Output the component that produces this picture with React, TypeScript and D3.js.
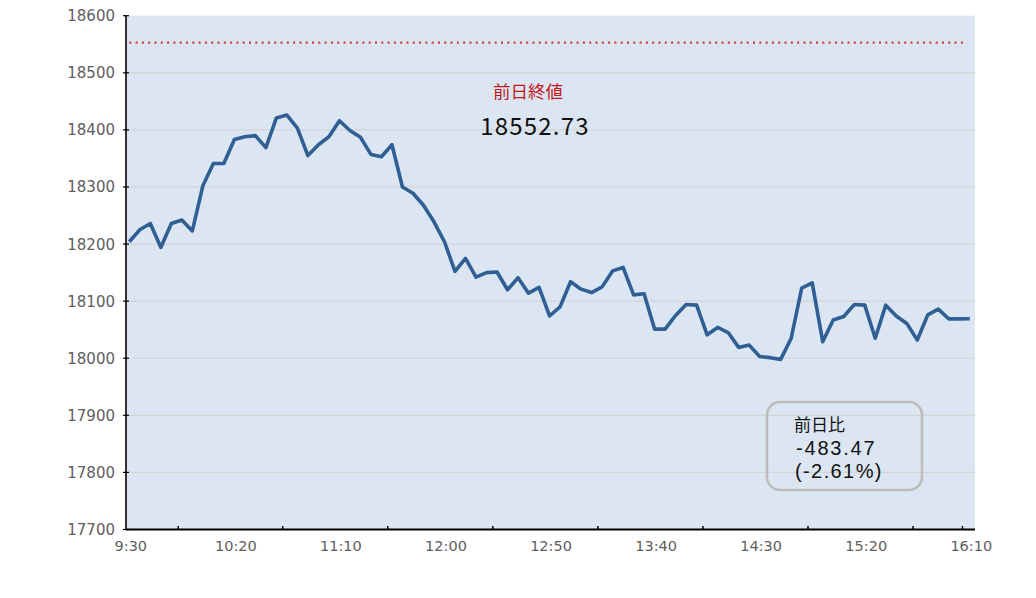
import React from "react";
import * as d3 from "d3";

const values: number[] = [
  18204, 18225, 18236, 18194, 18236, 18242, 18223, 18302, 18341, 18341,
  18383, 18388, 18390, 18369, 18421, 18426, 18403, 18355, 18374, 18388,
  18416, 18399, 18387, 18357, 18353, 18374, 18300, 18289, 18268, 18239,
  18204, 18152, 18175, 18142, 18150, 18151, 18120, 18141, 18114, 18124,
  18074, 18090, 18134, 18121, 18115, 18125, 18153, 18159, 18111, 18113,
  18051, 18051, 18075, 18094, 18093, 18041, 18054, 18045, 18019, 18023,
  18003, 18001, 17998, 18035, 18123, 18132, 18029, 18067, 18073, 18094,
  18093, 18035, 18093, 18074, 18061, 18032, 18076, 18086, 18069, 18069,
  18069.26,
];
const timeLabels: string[] = ["9:30", "10:20", "11:10", "12:00", "12:50", "13:40", "14:30", "15:20", "16:10"];
const labelIdx: number[] = [0, 10, 20, 30, 40, 50, 60, 70, 80];
const xTickIdx: number[] = [4.66, 14.6, 24.6, 34.6, 44.6, 54.6, 64.6, 74.6, 79.3];
const yTicks: number[] = [17700, 17800, 17900, 18000, 18100, 18200, 18300, 18400, 18500, 18600];
const prevClose = 18552.73;
const prevCloseLabel = "前日終値";
const diffLabel = "前日比";
const diffValue = "-483.47";
const diffPct = "(-2.61%)";

const W = 1036, H = 598;
const plotL = 126, plotR = 975, plotT = 15.7, plotB = 529.5;

export default function App() {
  const x = d3.scaleLinear().domain([0, 80]).range([129.3, 969.8]);
  const y = d3.scaleLinear().domain([17700, 18600]).range([plotB, plotT]);
  const line = d3.line<number>().x((_, i) => x(i)).y((d) => y(d));
  const font = "'Noto Sans CJK JP', 'Noto Sans', sans-serif";
  const tickFont = "'DejaVu Sans', sans-serif";
  const numFont = "'Liberation Sans', sans-serif";

  return (
    <div style={{ position: "absolute", left: 0, top: 0 }}>
      <svg width={W} height={H} style={{ display: "block", background: "#fff" }} fontFamily={font}>
        <rect x={plotL} y={plotT} width={plotR - plotL} height={plotB - plotT} fill="#dce6f2" />
        {yTicks.slice(1, -1).map((t) => (
          <line key={"g" + t} x1={plotL} x2={plotR} y1={y(t)} y2={y(t)} stroke="#d4d4d4" strokeWidth={1.2} />
        ))}
        <line x1={x(0)} x2={965} y1={y(prevClose)} y2={y(prevClose)} stroke="#d03a3a" strokeWidth={2.2} strokeDasharray="2 4.3" />
        <path d={line(values) || ""} fill="none" stroke="#305f94" strokeWidth={3.6} strokeLinejoin="round" />
        <line x1={plotL} x2={plotL} y1={plotT} y2={plotB} stroke="#000" strokeWidth={1.6} />
        <line x1={plotL} x2={plotR} y1={plotB} y2={plotB} stroke="#000" strokeWidth={1.8} />
        {yTicks.map((t) => (
          <g key={"y" + t}>
            <line x1={plotL - 3} x2={plotL + 3} y1={y(t)} y2={y(t)} stroke="#000" strokeWidth={1.2} />
            <text x={115} y={y(t) + 5.5} textAnchor="end" fontSize={15} fontFamily={tickFont} fill="#5e5e5e">{t}</text>
          </g>
        ))}
        {xTickIdx.map((t, i) => (
          <line key={"xt" + i} x1={x(t)} x2={x(t)} y1={plotB - 3.5} y2={plotB} stroke="#000" strokeWidth={1.5} />
        ))}
        {timeLabels.map((l, i) => (
          <text key={"xl" + i} x={x(labelIdx[i]) + 1.5} y={550.5} textAnchor="middle" fontSize={14.5} fontFamily={tickFont} fill="#5e5e5e">{l}</text>
        ))}
        <text x={528} y={98} textAnchor="middle" fontSize={17.5} fill="#c0161d">{prevCloseLabel}</text>
        <text x={535} y={135} textAnchor="middle" fontSize={24} fill="#111" letterSpacing={1.2}>{prevClose.toFixed(2)}</text>
        <rect x={767} y={402} width={155} height={88} rx={13} fill="none" stroke="#bcbcbc" strokeWidth={2.6} />
        <text x={794} y={431} fontSize={17} fill="#111">{diffLabel}</text>
        <text x={796} y={455} fontSize={20} fontFamily={numFont} fill="#111" letterSpacing={1.8}>{diffValue}</text>
        <text x={795} y={478} fontSize={20} fontFamily={numFont} fill="#111" letterSpacing={1.4}>{diffPct}</text>
      </svg>
    </div>
  );
}
